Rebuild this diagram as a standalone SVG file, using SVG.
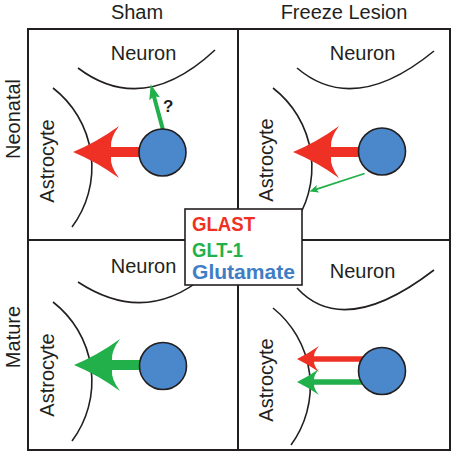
<svg xmlns="http://www.w3.org/2000/svg" width="454" height="456" viewBox="0 0 454 456">
<style>
.lbl{font-family:"Liberation Sans",Arial,sans-serif;font-size:20px;fill:#231f20}
.cell{fill:none;stroke:#231f20;stroke-width:2}
.mem{fill:none;stroke:#231f20;stroke-width:1.6}
.glu{fill:#4a88cb;stroke:#231f20;stroke-width:1.6}
.red{fill:#ee3124}
.grn{fill:#22b04b}
.leg{font-family:"Liberation Sans",Arial,sans-serif;font-size:20px;font-weight:bold}
</style>
<defs>
<path id="bigHead" d="M0,0 Q24,-10 46,-26 Q37,-14 38,-5 L70,-5 L70,5 L38,5 Q37,14 46,26 Q24,10 0,0 Z"/>
<path id="smallHead" d="M0,0 Q12,-6 22,-13 Q17,-7 17,-2.7 L66,-2.7 L66,2.7 L17,2.7 Q17,7 22,13 Q12,6 0,0 Z"/>
</defs>

<g id="headers">
<text class="lbl" x="137" y="19" text-anchor="middle">Sham</text>
<text class="lbl" x="344" y="19" text-anchor="middle">Freeze Lesion</text>
<text class="lbl" transform="translate(20,119) rotate(-90)" text-anchor="middle">Neonatal</text>
<text class="lbl" transform="translate(20,337) rotate(-90)" text-anchor="middle">Mature</text>
</g>

<g id="grid">
<rect class="cell" x="28" y="29" width="422" height="421"/>
<line class="cell" x1="238" y1="29" x2="238" y2="450"/>
<line class="cell" x1="28" y1="240" x2="450" y2="240"/>
</g>

<g id="panel-neonatal-sham">
<path class="mem" d="M78,68 Q143,117 215,50"/>
<text class="lbl" x="143.5" y="60" text-anchor="middle">Neuron</text>
<path class="mem" d="M53,88 A100,100 0 0 1 72,227"/>
<text class="lbl" transform="translate(54,161) rotate(-90)" text-anchor="middle">Astrocyte</text>
</g>

<g id="panel-neonatal-lesion">
<path class="mem" d="M297,68 Q354,116.5 434,51"/>
<text class="lbl" x="362.5" y="60" text-anchor="middle">Neuron</text>
<path class="mem" d="M273,88 A100,100 0 0 1 292,227"/>
<text class="lbl" transform="translate(273,160) rotate(-90)" text-anchor="middle">Astrocyte</text>
</g>

<g id="panel-mature-sham">
<path class="mem" d="M78,282 Q145,326 205,276"/>
<text class="lbl" x="143.5" y="273" text-anchor="middle">Neuron</text>
<path class="mem" d="M53,302 A100,100 0 0 1 72,441"/>
<text class="lbl" transform="translate(54,375) rotate(-90)" text-anchor="middle">Astrocyte</text>
</g>

<g id="panel-mature-lesion">
<path class="mem" d="M297,288 Q344,339 434,270"/>
<text class="lbl" x="362.5" y="278" text-anchor="middle">Neuron</text>
<path class="mem" d="M273,308 A100,100 0 0 1 291,445"/>
<text class="lbl" transform="translate(273,380) rotate(-90)" text-anchor="middle">Astrocyte</text>
</g>

<g id="connectors">
<use href="#bigHead" class="red" transform="translate(73,152)"/>
<g transform="translate(150.7,84.3) rotate(74.9)">
<path class="grn" d="M0,0 L15,-5.5 L12.5,0 L15,5.5 Z"/>
<line x1="11" y1="0" x2="48" y2="0" stroke="#22b04b" stroke-width="4"/>
</g>
<text x="163" y="112" font-family="Liberation Sans,Arial,sans-serif" font-size="17" font-weight="bold" fill="#231f20">?</text>

<use href="#bigHead" class="red" transform="translate(293,152)"/>
<g transform="translate(309.5,191.5) rotate(-18.1)">
<path class="grn" d="M0,0 L9,-4 L7,0 L9,4 Z"/>
<line x1="6" y1="0" x2="58" y2="0" stroke="#22b04b" stroke-width="1.8"/>
</g>

<use href="#bigHead" class="grn" transform="translate(74,365)"/>

<use href="#smallHead" class="red" transform="translate(297,359)"/>
<use href="#smallHead" class="grn" transform="translate(297,382)"/>
</g>

<g id="glutamate-nodes">
<circle class="glu" cx="162.5" cy="152.5" r="23.5"/>
<circle class="glu" cx="382" cy="151.5" r="23.5"/>
<circle class="glu" cx="163" cy="366" r="23.5"/>
<circle class="glu" cx="382" cy="371" r="23.5"/>
</g>

<g id="legend">
<rect x="185" y="209" width="117" height="76" fill="#fff" stroke="#231f20" stroke-width="1.6"/>
<text class="leg" x="192" y="231" fill="#ee3124" textLength="63" lengthAdjust="spacingAndGlyphs">GLAST</text>
<text class="leg" x="192" y="257" fill="#22b04b" textLength="51" lengthAdjust="spacingAndGlyphs">GLT-1</text>
<text class="leg" x="192" y="279" fill="#3f7ec6" textLength="103" lengthAdjust="spacingAndGlyphs">Glutamate</text>
</g>
</svg>
